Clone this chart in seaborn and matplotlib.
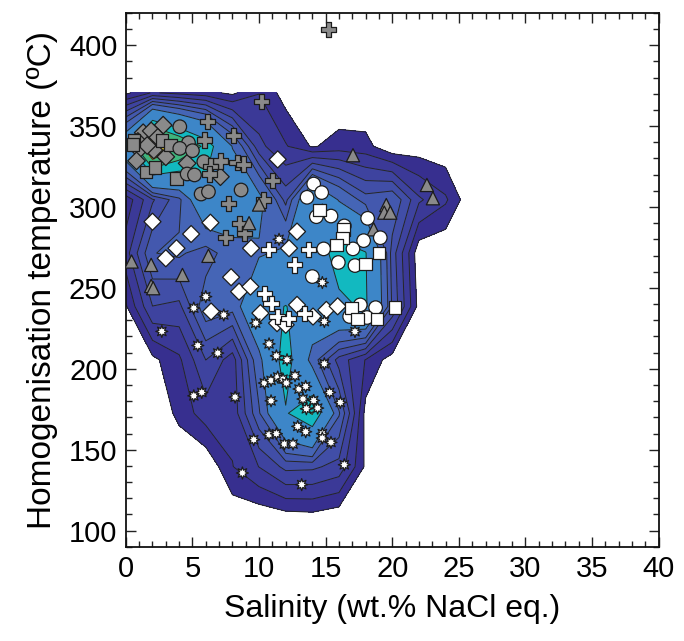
import numpy as np
import pandas as pd
import matplotlib
matplotlib.use("Agg")
import matplotlib.pyplot as plt
from matplotlib.ticker import MultipleLocator
import seaborn as sns

# ---- fluid inclusion data: salinity (wt.% NaCl eq.) and Th (°C) ----
grey_diamond_x = [2.8, 1.3, 1.9, 0.9, 1.0, 2.1, 0.8, 3.0, 4.6, 7.1, 1.6, 2.4]
grey_diamond_y = [350.6, 345.9, 347.0, 340.5, 335.5, 335.2, 328.5, 331.0, 327.0, 318.7, 338.0, 343.0]

grey_square_x = [0.6, 0.55, 2.7, 3.35, 1.5, 2.2, 3.8]
grey_square_y = [341.4, 338.5, 341.0, 338.3, 321.8, 324.5, 317.7]

grey_circle_x = [4.05, 4.7, 4.05, 5.0, 5.85, 4.6, 5.15, 5.65, 6.2, 8.65]
grey_circle_y = [349.6, 339.7, 336.2, 334.8, 328.0, 320.4, 319.8, 308.0, 309.4, 310.5]

grey_cross_x = [15.2, 10.2, 6.1, 5.9, 8.1, 7.1, 6.35, 8.35, 8.85, 6.3, 11.0, 10.35, 7.7, 8.55, 8.9, 7.5]
grey_cross_y = [409.7, 365.0, 352.7, 341.4, 344.4, 328.4, 325.3, 327.4, 326.5, 320.4, 316.2, 304.3,
                302.3, 290.0, 283.8, 281.3]

grey_triangle_x = [0.43, 1.9, 4.25, 1.9, 2.05, 6.2, 9.25, 10.0, 14.75, 17.05, 18.6, 19.55, 19.4,
                   19.85, 22.6, 23.05]
grey_triangle_y = [266.3, 264.2, 258.0, 251.2, 249.8, 269.8, 290.0, 301.5, 297.7, 332.0, 286.2, 301.2,
                   296.5, 296.5, 313.6, 305.4]

white_diamond_x = [11.4, 2.0, 6.35, 4.9, 3.8, 3.0, 9.4, 12.25, 12.85, 7.9, 8.5, 9.35, 6.4, 10.1,
                   11.35, 12.0, 12.85, 14.05, 15.05, 15.9]
white_diamond_y = [329.4, 290.9, 290.3, 283.3, 274.5, 268.3, 274.5, 274.5, 284.8, 256.6, 247.7, 250.8,
                   235.4, 234.4, 228.2, 227.2, 239.5, 232.3, 236.4, 238.6]

white_cross_x = [10.7, 13.7, 12.65, 10.4, 10.9, 11.35, 12.2, 13.4]
white_cross_y = [273.9, 273.9, 264.2, 246.7, 240.5, 232.3, 231.3, 234.4]

white_circle_x = [14.1, 13.6, 14.7, 14.3, 15.4, 18.15, 19.1, 17.85, 17.05, 14.85, 15.95, 17.2, 14.0,
                  16.4, 17.6, 18.75, 18.1, 16.8]
white_circle_y = [314.2, 306.0, 308.9, 294.0, 294.4, 293.0, 281.0, 279.2, 274.1, 274.1, 265.7, 263.8,
                  257.0, 288.3, 239.5, 237.8, 231.7, 232.3]

white_square_x = [14.55, 16.35, 16.25, 15.8, 18.0, 19.0, 20.2, 16.95, 17.4, 18.85]
white_square_y = [298.0, 286.2, 280.7, 276.5, 264.8, 271.4, 237.8, 237.5, 230.7, 230.9]

star_x = [11.5, 14.75, 6.0, 5.1, 7.35, 9.75, 14.9, 2.7, 5.4, 6.9, 10.75, 11.3, 12.1, 14.9, 17.2,
          10.4, 10.9, 11.4, 11.8, 12.05, 12.7, 13.0, 13.5, 10.9, 13.3, 14.1, 13.55, 14.4, 15.3,
          16.1, 8.2, 5.1, 5.7, 12.9, 13.5, 14.75, 14.75, 15.4, 10.75, 11.3, 11.9, 12.55, 9.6, 16.4,
          8.75, 13.2]
star_y = [280.0, 253.3, 244.6, 237.5, 233.3, 228.2, 229.2, 223.1, 214.4, 209.7, 215.4, 208.0, 205.6,
          203.1, 223.0, 191.2, 192.8, 194.9, 193.6, 191.2, 195.7, 187.5, 189.1, 180.2, 181.3, 180.4,
          175.3, 175.7, 185.4, 179.2, 182.5, 183.3, 185.4, 164.4, 161.1, 159.9, 157.2, 154.5,
          159.3, 159.9, 153.5, 153.5, 156.2, 140.7, 135.6, 128.4]

series = {
    "grey_diamond": (grey_diamond_x, grey_diamond_y),
    "grey_square": (grey_square_x, grey_square_y),
    "grey_circle": (grey_circle_x, grey_circle_y),
    "grey_cross": (grey_cross_x, grey_cross_y),
    "grey_triangle": (grey_triangle_x, grey_triangle_y),
    "white_diamond": (white_diamond_x, white_diamond_y),
    "white_cross": (white_cross_x, white_cross_y),
    "white_circle": (white_circle_x, white_circle_y),
    "white_square": (white_square_x, white_square_y),
    "star": (star_x, star_y),
}
df = pd.concat(
    [pd.DataFrame({"salinity": xs, "th": ys, "group": name}) for name, (xs, ys) in series.items()],
    ignore_index=True,
)

# ---- Gaussian density of all inclusions on a coarse grid ----
grid_x = np.arange(0, 41, 2.0)
grid_y = 106.5 + 33.0 * np.arange(9)
GX, GY = np.meshgrid(grid_x, grid_y)
hx, hy = 1.1, 13.0
px = df["salinity"].to_numpy()[:, None, None]
py = df["th"].to_numpy()[:, None, None]
density = np.exp(-0.5 * ((GX - px) / hx) ** 2 - 0.5 * ((GY - py) / hy) ** 2).sum(axis=0)

fractions = np.array([0.045, 0.09, 0.14, 0.19, 0.24, 0.29, 0.37, 0.56, 0.67, 0.80, 0.92])
levels = fractions * density.max()
band_colors = ["#372f8f", "#3b3997", "#3e439f", "#414ea7", "#4358ae", "#4565b6",
               "#3d86c8", "#12b9c0", "#3fb57d", "#d9c02c", "#f5a623"]

# ---- figure ----
sns.set_style("ticks")
plt.rcParams["font.family"] = ["Liberation Sans", "DejaVu Sans"]
plt.rcParams["text.color"] = "black"
plt.rcParams["axes.labelcolor"] = "black"
plt.rcParams["xtick.color"] = "black"
plt.rcParams["ytick.color"] = "black"

fig = plt.figure(figsize=(6.84, 6.41), dpi=100)
ax = fig.add_axes([0.184, 0.147, 0.779, 0.833])

ax.contourf(grid_x, grid_y, density, levels=levels, colors=band_colors, extend="max", zorder=1)
ax.contour(grid_x, grid_y, density, levels=levels, colors="#262626", linewidths=0.7, zorder=2)

grey = "#8a8a8a"
palette = {
    "grey_diamond": grey, "grey_square": grey, "grey_circle": grey, "grey_cross": grey,
    "grey_triangle": grey, "white_diamond": "white", "white_cross": "white",
    "white_circle": "white", "white_square": "white", "star": "white",
}
markers = {
    "grey_diamond": "D", "grey_square": "s", "grey_circle": "o", "grey_cross": "P",
    "grey_triangle": "^", "white_diamond": "D", "white_cross": "P",
    "white_circle": "o", "white_square": "s", "star": (8, 1, 0),
}
sizes = {
    "grey_diamond": 80, "grey_square": 80, "grey_circle": 95, "grey_cross": 120,
    "grey_triangle": 90, "white_diamond": 75, "white_cross": 120,
    "white_circle": 95, "white_square": 80, "star": 75,
}
sns.scatterplot(
    data=df, x="salinity", y="th", hue="group", style="group", size="group",
    palette=palette, markers=markers, sizes=sizes, edgecolor="#1c1c1c", linewidth=0.9,
    legend=False, ax=ax, zorder=3,
)

ax.set_xlim(0, 40)
ax.set_ylim(90, 420)
ax.xaxis.set_major_locator(MultipleLocator(5))
ax.xaxis.set_minor_locator(MultipleLocator(1))
ax.yaxis.set_major_locator(MultipleLocator(50))
ax.yaxis.set_minor_locator(MultipleLocator(10))
ax.tick_params(which="both", direction="in", top=True, right=True, width=1.0, color="#222222")
ax.tick_params(which="major", length=7.5, labelsize=21, pad=6)
ax.tick_params(which="minor", length=4.5)
for sp in ax.spines.values():
    sp.set_linewidth(1.3)
    sp.set_color("#111111")

ax.set_xlabel("Salinity (wt.% NaCl eq.)", fontsize=23, labelpad=8)
ax.set_ylabel("Homogenisation temperature (ºC)", fontsize=24, labelpad=8)

fig.savefig("out.png", dpi=100)
